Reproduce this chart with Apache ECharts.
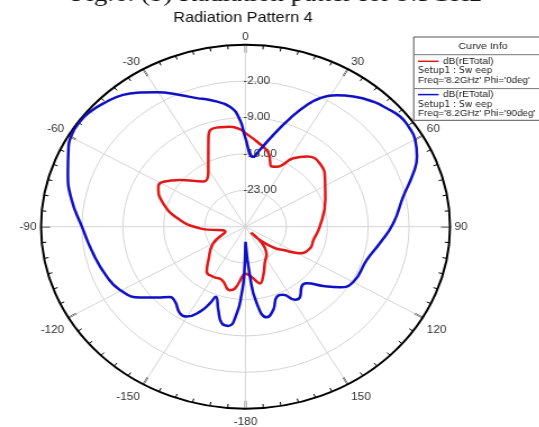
<!DOCTYPE html>
<html>
<head>
<meta charset="utf-8">
<script src="https://cdn.jsdelivr.net/npm/echarts@6/dist/echarts.min.js"></script>
<style>
  html, body { margin: 0; padding: 0; background: #fff; overflow: hidden; }
  #wrap { width: 539px; height: 427px; overflow: hidden; position: relative; }
  /* the plot is drawn round and then widened, as in the exported figure */
  #chart { width: 480px; height: 427px; transform: scaleX(1.1236); transform-origin: 0 0; }
</style>
</head>
<body>
<div id="wrap"><div id="chart"></div></div>
<script>
// ---- text ----
const captionText = 'Fig.6. (b) Radiation patter for 9.5GHz';
const titleText = 'Radiation Pattern 4';
const legendTitle = 'Curve Info';
const curveNames = ['dB(rETotal)', 'dB(rETotal)'];
const curveSetup = ['Setup1 : Sw eep', 'Setup1 : Sw eep'];
const curveFreq = ["Freq='8.2GHz' Phi='0deg'", "Freq='8.2GHz' Phi='90deg'"];

// ---- axes ----
const angleTickLabels = ['0', '30', '60', '90', '120', '150', '-180', '-150', '-120', '-90', '-60', '-30'];
const radiusTicks = [-30, -23, -16, -9, -2, 5];

// ---- Phi = 0deg (theta in degrees, gain in dB) ----
const phi0Theta = [-180, -177.6, -171.4, -167.7, -158.3, -150.1, -142.5, -135.2, -120.0, -105.4,
  -92.3, -83.4, -72.3, -62.7, -58.4, -51.3, -39.9, -31.8, -25.3, -20.9, -16.3, -7.9, -2.0,
  0, 6.7, 15.5, 21.2, 24.8, 31.9, 37.9, 46.3, 56.6, 69.3, 90.0, 102.4, 110.6, 118.7, 124.7,
  129.4, 135.9, 141.0, 146.3, 153.6, 161.9, 167.2, 169.7, 175.0, 180];
const phi0Db = [-21.0, -20.7, -18.0, -17.5, -19.0, -18.9, -19.1, -21.0, -23.6, -26.4,
  -22.2, -18.7, -15.2, -13.2, -13.5, -15.6, -18.7, -17.9, -15.1, -12.2, -10.3, -10.6, -11.4,
  -12.0, -13.5, -15.3, -17.6, -17.3, -14.5, -12.9, -12.4, -13.7, -15.4, -17.3, -18.1, -18.2, -19.4, -22.1,
  -23.5, -26.4, -28.5, -23.5, -22.5, -20.2, -18.8, -19.3, -20.5, -21.0];

// ---- Phi = 90deg ----
const phi90Theta = [-180, -178.5, -177.1, -174.9, -171.2, -167.6, -163.8, -159.3, -157.6, -154.5,
  -149.8, -146.1, -140.1, -136.2, -131.9, -127.1, -119.5, -112.0, -101.1, -90.0, -80.2, -71.3,
  -64.1, -59.3, -54.5, -50.3, -44.7, -39.6, -35.0, -30.4, -23.9, -18.7, -14.0, -6.6, -2.6, -0.3,
  5.7, 9.5, 15.1, 20.1, 24.1, 27.3, 31.7, 36.4, 42.3, 46.7, 51.3, 55.4, 60.1, 65.3, 70.3, 77.9,
  88.5, 97.9, 107.2, 119.8, 125.8, 130.6, 136.1, 140.2, 145.3, 149.0, 153.8, 158.3, 163.5, 168.2,
  172.6, 175.4, 180];
const phi90Db = [-27.1, -20.4, -17.2, -13.3, -10.7, -11.0, -13.3, -15.6, -14.1, -11.9,
  -10.0, -9.9, -11.2, -11.3, -9.6, -7.4, -5.3, -4.4, -3.4, -2.0, 0.2, 2.1,
  3.7, 4.6, 4.8, 4.6, 3.8, 2.9, 1.5, 0.0, -2.3, -3.9, -4.9, -6.8, -9.5, -12.7,
  -16.5, -15.0, -11.7, -7.8, -4.4, -2.2, -0.3, 1.1, 2.5, 3.2, 3.9, 3.9, 3.5, 2.3, 0.5, -2.4,
  -4.7, -6.8, -8.3, -8.7, -10.1, -12.5, -14.9, -15.0, -13.6, -13.6, -15.4, -15.5, -13.3, -12.2,
  -15.2, -20.3, -27.1];

const RED = '#e01818';
const BLUE = '#1010c4';

// polar data is [radius, angle]; angles are shifted into 0..360
function toPolar(theta, db) {
  return theta.map((t, i) => [db[i], (t + 360) % 360]);
}

const rMin = radiusTicks[0];
const rMax = radiusTicks[radiusTicks.length - 1];
const rStep = radiusTicks[1] - radiusTicks[0];

const chart = echarts.init(document.getElementById('chart'), null, { renderer: 'canvas' });

// legend table drawn as graphic elements
const LX = 368.2, LW = 130;
const legendRows = [
  { color: RED, y0: 61.3, y1: 71.0, y2: 81.0 },
  { color: BLUE, y0: 94.6, y1: 104.4, y2: 114.0 }
];
const sans = '"Liberation Sans", Arial, sans-serif';
const narrow = '"Liberation Sans Narrow", "Arial Narrow", "DejaVu Sans Condensed", "Liberation Sans", sans-serif';
const legendGraphics = [
  { type: 'rect', shape: { x: LX, y: 37, width: LW, height: 83.3 }, style: { fill: '#fff', stroke: '#555', lineWidth: 1 }, z: 100 },
  { type: 'line', shape: { x1: LX, y1: 54.7, x2: LX + LW, y2: 54.7 }, style: { stroke: '#777', lineWidth: 1 }, z: 101 },
  { type: 'line', shape: { x1: LX, y1: 88.6, x2: LX + LW, y2: 88.6 }, style: { stroke: '#777', lineWidth: 1 }, z: 101 },
  { type: 'text', x: 429.9, y: 46.5, z: 102,
    style: { text: legendTitle, font: '9.5px ' + sans, fill: '#222', align: 'center', verticalAlign: 'middle' } }
];
legendRows.forEach((row, i) => {
  legendGraphics.push(
    { type: 'line', shape: { x1: 372, y1: row.y0, x2: 390.4, y2: row.y0 }, style: { stroke: row.color, lineWidth: 1.5 }, z: 102 },
    { type: 'text', x: 394.3, y: row.y0, z: 102,
      style: { text: curveNames[i], font: '9px ' + sans, fill: '#222', align: 'left', verticalAlign: 'middle' } },
    { type: 'text', x: 372, y: row.y1, z: 102,
      style: { text: curveSetup[i], font: '9px ' + narrow, fill: '#222', align: 'left', verticalAlign: 'middle' } },
    { type: 'text', x: 372, y: row.y2, z: 102,
      style: { text: curveFreq[i], font: '8.8px ' + sans, fill: '#222', align: 'left', verticalAlign: 'middle' } }
  );
});

const option = {
  backgroundColor: '#fff',
  animation: false,
  polar: { center: [218.5, 226.7], radius: [0, 182] },
  angleAxis: {
    type: 'value',
    min: 0,
    max: 360,
    interval: 30,
    startAngle: 90,
    clockwise: true,
    axisLine: { show: true, lineStyle: { color: '#000', width: 2 } },
    axisTick: { show: true, inside: true, length: 8, lineStyle: { color: '#000', width: 1.5 } },
    minorTick: { show: true, splitNumber: 6, length: 4, lineStyle: { color: '#000', width: 1 } },
    axisLabel: {
      show: true,
      margin: 2,
      padding: [6, 2, 0, 2],
      color: '#333',
      fontSize: 10.5,
      fontFamily: sans,
      formatter: v => (v >= 360 ? '' : angleTickLabels[Math.round(v / 30)])
    },
    splitLine: { show: true, lineStyle: { color: '#d6d6d6', width: 1 } }
  },
  radiusAxis: {
    type: 'value',
    min: rMin,
    max: rMax,
    interval: rStep,
    axisLine: { show: false },
    axisTick: { show: false },
    axisLabel: {
      show: true,
      margin: 2,
      align: 'left',
      verticalAlign: 'middle',
      padding: [0, 0, 9, 0],
      color: '#333',
      fontSize: 10.5,
      fontFamily: sans,
      formatter: v => (v === rMin || v === rMax ? '' : v.toFixed(2))
    },
    splitLine: { show: true, lineStyle: { color: '#d6d6d6', width: 1 } }
  },
  graphic: [
    { type: 'text', x: 246, y: -5, z: 50,
      style: { text: captionText, font: '24px "Liberation Serif", "Times New Roman", serif', fill: '#111', align: 'center', verticalAlign: 'middle' } },
    { type: 'text', x: 216.3, y: 18, z: 50,
      style: { text: titleText, font: '14.5px ' + sans, fill: '#111', align: 'center', verticalAlign: 'middle' } }
  ].concat(legendGraphics),
  series: [
    {
      name: "Phi='0deg'",
      type: 'line',
      coordinateSystem: 'polar',
      data: toPolar(phi0Theta, phi0Db),
      showSymbol: false,
      smooth: 0.5,
      lineStyle: { color: RED, width: 2.5 },
      itemStyle: { color: RED },
      z: 3
    },
    {
      name: "Phi='90deg'",
      type: 'line',
      coordinateSystem: 'polar',
      data: toPolar(phi90Theta, phi90Db),
      showSymbol: false,
      smooth: 0.5,
      lineStyle: { color: BLUE, width: 2.5 },
      itemStyle: { color: BLUE },
      z: 4
    }
  ]
};

chart.setOption(option);
</script>
</body>
</html>
